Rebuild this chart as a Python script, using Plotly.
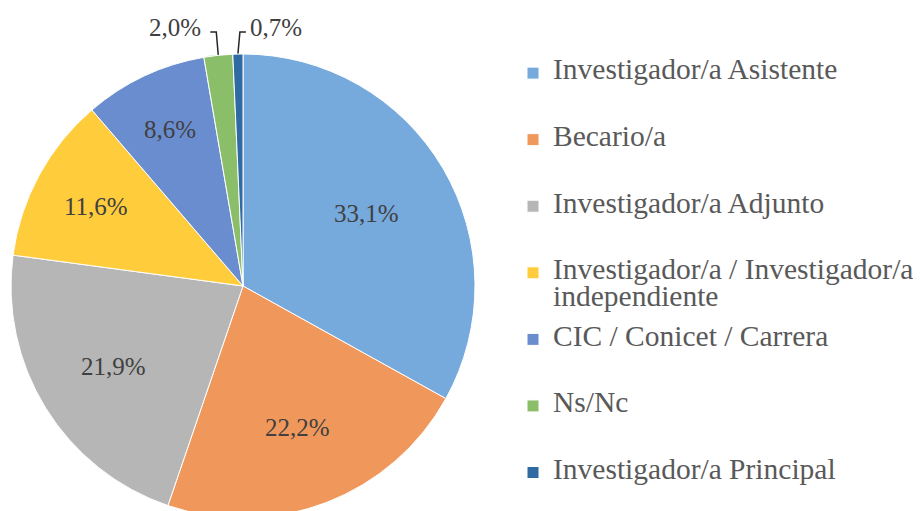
import math
import plotly.graph_objects as go

labels = [
    "Investigador/a Asistente",
    "Becario/a",
    "Investigador/a Adjunto",
    "Investigador/a / Investigador/a<br>independiente",
    "CIC / Conicet / Carrera",
    "Ns/Nc",
    "Investigador/a Principal",
]
values = [33.1, 22.2, 21.9, 11.6, 8.6, 2.0, 0.7]
colors = ["#76A9DC", "#F0985C", "#B6B6B6", "#FFCD3C", "#6A8DD0", "#8BBE69", "#2F6AA3"]

W, H = 921, 511
R = 232
CX = 235
CY = 278
FONT = "Liberation Serif"
LEG_BASE = 16.3   # nominal legend font (sets row spacing)
LEG_SIZE = 29.5   # visible legend text size
LBL_SIZE = 25
TXT = "#404040"


def fmt(v):
    return f"{v:.1f}%".replace(".", ",")


def leg_label(s):
    lines = s.split("<br>")
    out = f"<span style='font-size:{LEG_SIZE}px'>{lines[0]}</span>"
    for ln in lines[1:]:
        out += f"<br><sub><sub><span style='font-size:{LEG_SIZE}px'>{ln}</span></sub></sub>"
    out += "<br> " * (3 - len(lines))
    return out


legend_labels = [leg_label(s) for s in labels]

# geometry of slices (clockwise from 12 o'clock)
total = sum(values)
mids, halves = [], []
acc = 0.0
for v in values:
    mids.append((acc + v / 2) / total * 2 * math.pi)
    halves.append(math.pi * v / total)
    acc += v

fig = go.Figure()
fig.add_trace(
    go.Pie(
        labels=legend_labels,
        values=values,
        sort=False,
        direction="clockwise",
        rotation=0,
        marker=dict(colors=colors, line=dict(color="white", width=1)),
        textinfo="none",
        domain=dict(x=[(CX - R) / W, (CX + R) / W], y=[(H - CY - R) / H, (H - CY + R) / H]),
        hoverinfo="skip",
    )
)

annotations = []
out_idx = []
for i, v in enumerate(values):
    if v >= 5:
        s = math.sin(min(halves[i], math.pi / 2))
        r_ins = s / (1 + s)
        f = 0.5 * (1 - r_ins) + 0.35
        annotations.append(dict(
            x=CX + f * R * math.sin(mids[i]), y=CY - f * R * math.cos(mids[i]),
            xref="x", yref="y", text=fmt(v), showarrow=False,
            font=dict(family=FONT, size=LBL_SIZE, color=TXT),
        ))
    else:
        out_idx.append(i)

# outside labels with leader lines
Ly = CY - R - 27
right_one = max(out_idx, key=lambda i: mids[i])
for i in out_idx:
    side = 1 if i == right_one else -1
    ex = CX + R * math.sin(mids[i])
    ey = CY - R * math.cos(mids[i])
    vx = ex + side * 2
    hx = vx + side * 6
    fig.add_trace(
        go.Scatter(
            x=[ex, vx, hx], y=[ey, Ly + 5, Ly + 5], mode="lines",
            line=dict(color="#262626", width=1.5),
            showlegend=False, hoverinfo="skip", cliponaxis=False,
        )
    )
    annotations.append(dict(
        x=hx + (2 if side > 0 else -7), y=Ly, xref="x", yref="y",
        text=fmt(values[i]), showarrow=False,
        xanchor="left" if side > 0 else "right",
        font=dict(family=FONT, size=LBL_SIZE, color=TXT),
    ))

fig.update_layout(
    width=W,
    height=H,
    margin=dict(l=0, r=0, t=0, b=0, autoexpand=False),
    paper_bgcolor="white",
    plot_bgcolor="rgba(0,0,0,0)",
    xaxis=dict(range=[0, W], visible=False, fixedrange=True, domain=[0, 1]),
    yaxis=dict(range=[H, 0], visible=False, fixedrange=True, domain=[0, 1]),
    annotations=annotations,
    showlegend=True,
    legend=dict(
        x=505 / W,
        y=1 - 48 / H,
        xanchor="left",
        yanchor="top",
        valign="top",
        font=dict(family=FONT, size=LEG_BASE, color="#595959"),
        bgcolor="rgba(0,0,0,0)",
        traceorder="normal",
    ),
    font=dict(family=FONT),
)

fig.write_html("out.html")
